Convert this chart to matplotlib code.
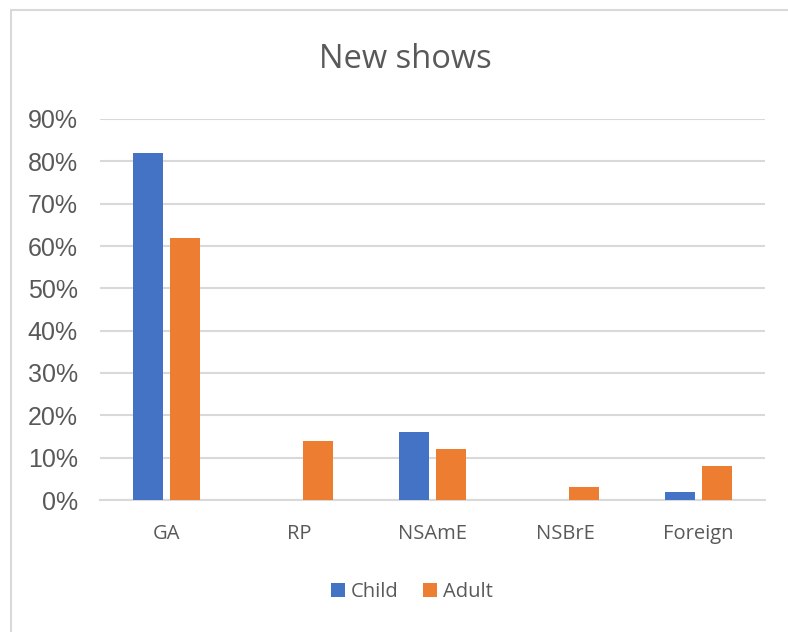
import numpy as np
import matplotlib
matplotlib.use("Agg")
import matplotlib.pyplot as plt
from matplotlib.patches import Rectangle
from matplotlib.ticker import PercentFormatter

# share of new shows by accent, child vs adult
categories = ["GA", "RP", "NSAmE", "NSBrE", "Foreign"]
child = [0.82, 0.0, 0.16, 0.0, 0.02]
adult = [0.62, 0.14, 0.12, 0.03, 0.08]
yticks = [0.0, 0.1, 0.2, 0.3, 0.4, 0.5, 0.6, 0.7, 0.8, 0.9]

blue = "#4472C4"
orange = "#ED7D31"
grid_col = "#D9D9D9"
text_col = "#595959"

fig = plt.figure(figsize=(7.88, 6.32), dpi=100)

# chart area frame
fig.patches.append(Rectangle((10.5 / 788, -0.05), 1.1, (632 - 9.5) / 632 + 0.05,
                             transform=fig.transFigure, fill=False,
                             edgecolor=grid_col, linewidth=1.5))

ax = fig.add_axes([100 / 788, 1 - 500 / 632, 665 / 788, 381 / 632])

x = np.arange(len(categories))
w = 0.22
gap = 0.06
ax.bar(x - (w + gap) / 2, child, width=w, color=blue, label="Child", zorder=3)
ax.bar(x + (w + gap) / 2, adult, width=w, color=orange, label="Adult", zorder=3)

ax.set_xlim(-0.5, len(categories) - 0.5)
ax.set_ylim(0, 0.9)
ax.set_yticks(yticks)
ax.yaxis.set_major_formatter(PercentFormatter(1.0, decimals=0))
ax.set_xticks(x)
ax.set_xticklabels(categories, family="Open Sans", fontsize=14.5, color=text_col)
for lab in ax.get_yticklabels():
    lab.set_family("Liberation Sans")
    lab.set_fontsize(18)
    lab.set_color(text_col)

ax.grid(axis="y", color=grid_col, linewidth=1.5, zorder=0)
ax.tick_params(axis="both", length=0)
ax.tick_params(axis="x", pad=17.5)
ax.tick_params(axis="y", pad=16)
for side in ["top", "right", "left"]:
    ax.spines[side].set_visible(False)
ax.spines["bottom"].set_color(grid_col)
ax.spines["bottom"].set_linewidth(1.5)

fig.text(405 / 788, 1 - 59 / 632, "New shows", ha="center", va="center",
         family="Open Sans", fontsize=23.5, color=text_col)

leg = fig.legend(loc="center", bbox_to_anchor=(412 / 788, 1 - 592 / 632), ncol=2,
                 frameon=False, prop={"family": "Open Sans", "size": 14.5},
                 handlelength=0.7, handleheight=0.7, handletextpad=0.3,
                 columnspacing=1.2)
for t in leg.get_texts():
    t.set_color(text_col)

fig.savefig("out.png", dpi=100)
